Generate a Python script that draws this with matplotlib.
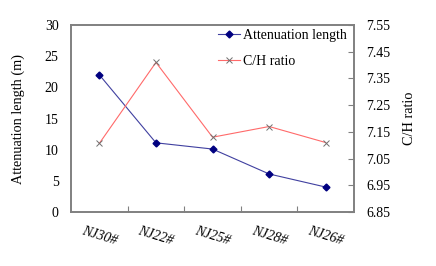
import matplotlib.pyplot as plt

plt.rcParams['font.family'] = ['Liberation Serif', 'DejaVu Serif']

samples = ['NJ30#', 'NJ22#', 'NJ25#', 'NJ28#', 'NJ26#']
atten_len = [22.0, 11.1, 10.1, 6.1, 4.0]
ch_ratio = [7.107, 7.41, 7.13, 7.17, 7.11]

fig = plt.figure(figsize=(4.36, 2.66), dpi=100)
ax = fig.add_axes([0.163, 0.203, 0.649, 0.703])
ax2 = ax.twinx()

x = list(range(len(samples)))
l1, = ax.plot(x, atten_len, color='#4040a0', marker='D', markersize=3.5,
              markerfacecolor='#000080', markeredgecolor='#000080',
              linewidth=0.8, label='Attenuation length')
l2, = ax2.plot(x, ch_ratio, color='#ff6a6a', marker='x', markersize=5,
               markeredgecolor='#707070', markeredgewidth=0.7,
               linewidth=0.8, label='C/H ratio')

ax.set_xlim(-0.5, len(samples) - 0.5)
ax.set_ylim(0, 30)
ax.set_yticks([0, 5, 10, 15, 20, 25, 30])
ax2.set_ylim(6.85, 7.55)
ax2.set_yticks([6.85, 6.95, 7.05, 7.15, 7.25, 7.35, 7.45, 7.55])
ax2.set_yticklabels([f'{v:.2f}' for v in ax2.get_yticks()])

# category ticks between points, labels at points
ax.set_xticks([i + 0.5 for i in range(len(samples) - 1)])
ax.set_xticklabels([])
ax.set_xticks(x, minor=True)
ax.set_xticklabels(samples, minor=True, rotation=-17, style='italic',
                   fontsize=10, ha='center')
ax.tick_params(axis='x', which='minor', length=0, pad=9)
ax.tick_params(axis='x', which='major', direction='in', length=4, color='#808080')
ax.tick_params(axis='y', direction='in', length=0, labelsize=10, pad=9)
ax2.tick_params(axis='y', direction='in', length=4, color='#808080', labelsize=10, pad=9)

for a in (ax, ax2):
    for s in a.spines.values():
        s.set_color('#808080')
        s.set_linewidth(1.2)

ax.set_ylabel('Attenuation length (m)', fontsize=10.3, labelpad=14)
ax2.set_ylabel('C/H ratio', fontsize=10.3, labelpad=9)

ax2.legend([l1, l2], ['Attenuation length', 'C/H ratio'], loc='upper right',
           bbox_to_anchor=(0.99, 1.0), frameon=False, fontsize=10,
           handlelength=1.6, handletextpad=0.2,
           borderaxespad=0.0, labelspacing=0.9, borderpad=0.3)

fig.savefig('out.png', dpi=100)
